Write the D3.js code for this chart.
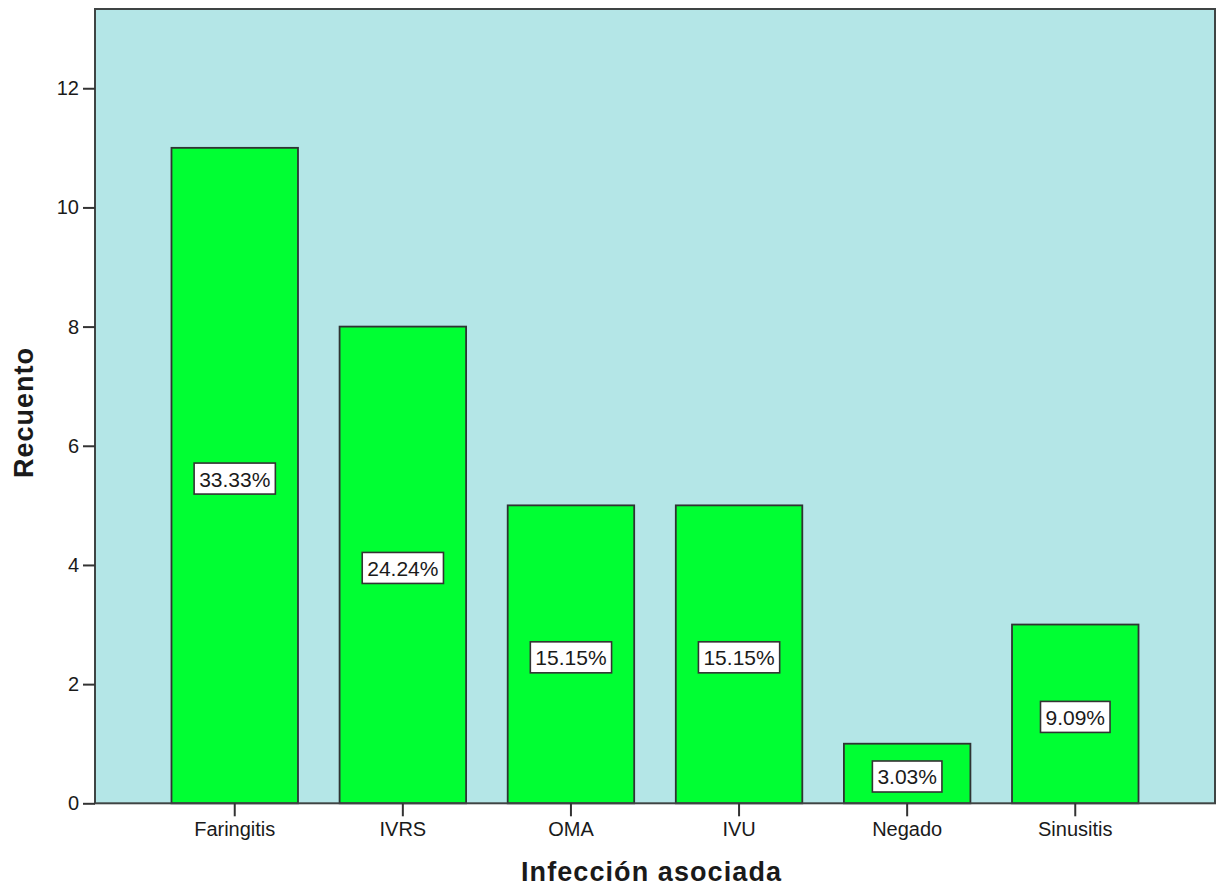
<!DOCTYPE html>
<html>
<head>
<meta charset="utf-8">
<script src="https://cdn.jsdelivr.net/npm/d3@7"></script>
<style>
  html, body { margin: 0; padding: 0; background: #ffffff; }
  svg { display: block; }
  text { font-family: "Liberation Sans", Arial, sans-serif; fill: #1a1a1a; }
</style>
</head>
<body>
<svg id="chart" width="1217" height="886"></svg>
<script>
// Infección asociada: recuento por categoría
const categories = ["Faringitis", "IVRS", "OMA", "IVU", "Negado", "Sinusitis"];
const counts = [11, 8, 5, 5, 1, 3];
const yTicks = [0, 2, 4, 6, 8, 10, 12];
const xTitle = "Infección asociada";
const yTitle = "Recuento";

const total = d3.sum(counts);
const percents = counts.map(c => (c / total * 100).toFixed(2) + "%");

const svg = d3.select("#chart");
const plot = { left: 95, right: 1215, top: 9, bottom: 803.3 };

const x = d3.scaleBand()
  .domain(categories)
  .range([plot.left, plot.right])
  .paddingInner(0.2475)
  .paddingOuter(0.455);

const y = d3.scaleLinear()
  .domain([0, 13.33])
  .range([plot.bottom, plot.top]);

// plot background
svg.append("rect")
  .attr("x", plot.left).attr("y", plot.top)
  .attr("width", plot.right - plot.left)
  .attr("height", plot.bottom - plot.top)
  .attr("fill", "#b4e6e7");

// bars
svg.append("g").selectAll("rect")
  .data(categories)
  .join("rect")
  .attr("x", d => x(d))
  .attr("y", (d, i) => y(counts[i]))
  .attr("width", x.bandwidth())
  .attr("height", (d, i) => y(0) - y(counts[i]))
  .attr("fill", "#00ff33")
  .attr("stroke", "#2f3333")
  .attr("stroke-width", 1.8);

// frame
svg.append("rect")
  .attr("x", plot.left).attr("y", plot.top)
  .attr("width", plot.right - plot.left)
  .attr("height", plot.bottom - plot.top)
  .attr("fill", "none")
  .attr("stroke", "#3f4444")
  .attr("stroke-width", 2);

// y axis
const yAxis = svg.append("g")
  .attr("transform", `translate(${plot.left},0)`)
  .call(d3.axisLeft(y).tickValues(yTicks).tickSize(12).tickPadding(4).tickFormat(d3.format("d")));
yAxis.select(".domain").remove();
yAxis.selectAll(".tick line").attr("stroke", "#333").attr("stroke-width", 2);
yAxis.selectAll(".tick text")
  .style("font-family", "'Liberation Sans', Arial, sans-serif")
  .style("font-size", "20px").attr("fill", "#222");

// x axis
const xAxis = svg.append("g")
  .attr("transform", `translate(0,${plot.bottom})`)
  .call(d3.axisBottom(x).tickSize(13).tickPadding(6));
xAxis.select(".domain").remove();
xAxis.selectAll(".tick line").attr("stroke", "#333").attr("stroke-width", 2);
xAxis.selectAll(".tick text")
  .style("font-family", "'Liberation Sans', Arial, sans-serif")
  .style("font-size", "20px").attr("fill", "#222");

// percentage labels in boxes near the middle of each bar
const labels = svg.append("g").selectAll("g")
  .data(categories)
  .join("g")
  .attr("transform", (d, i) => `translate(${x(d) + x.bandwidth() / 2},${y(counts[i] / 2) + 3})`);

labels.append("rect").attr("class", "box");
labels.append("text")
  .attr("text-anchor", "middle")
  .attr("dy", "0.38em")
  .style("font-size", "21px")
  .attr("fill", "#1a1a1a")
  .text((d, i) => percents[i]);

labels.each(function () {
  const g = d3.select(this);
  const w = g.select("text").node().getComputedTextLength() + 10;
  g.select("rect.box")
    .attr("x", -w / 2).attr("y", -15.5)
    .attr("width", w).attr("height", 31)
    .attr("fill", "#ffffff")
    .attr("stroke", "#333333")
    .attr("stroke-width", 1.6);
});

// axis titles
svg.append("text")
  .attr("x", (plot.left + plot.right) / 2 - 4)
  .attr("y", 881)
  .attr("text-anchor", "middle")
  .attr("textLength", 260)
  .attr("lengthAdjust", "spacing")
  .style("font-size", "27px")
  .style("font-weight", "bold")
  .attr("fill", "#111")
  .text(xTitle);

svg.append("text")
  .attr("transform", "translate(33,413) rotate(-90)")
  .attr("text-anchor", "middle")
  .attr("textLength", 130)
  .attr("lengthAdjust", "spacing")
  .style("font-size", "27px")
  .style("font-weight", "bold")
  .attr("fill", "#111")
  .text(yTitle);
</script>
</body>
</html>
